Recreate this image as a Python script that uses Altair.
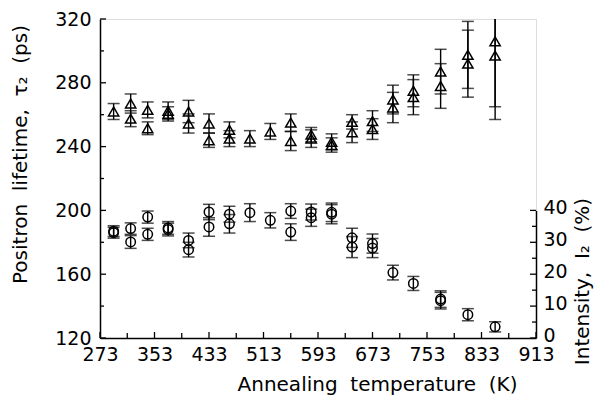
import altair as alt
import pandas as pd

# ---- data ----
# positron lifetime tau2 (ps), triangles
tri_T   = [293, 318, 318, 343, 343, 373, 373, 403, 403, 433, 433, 463, 463, 493, 523, 553, 553,
           583, 583, 613, 613, 643, 643, 673, 673, 703, 703, 733, 733, 773, 773, 813, 813, 853, 853]
tri_val = [262, 267, 257.5, 263, 251.5, 262.5, 260.5, 262, 254.5, 254.5, 244, 250.5, 245, 245, 249.5, 255, 243.5,
           247.5, 245, 243, 241, 255.5, 249, 256, 251, 269.5, 264.5, 275, 271, 287, 278, 297.5, 292, 306, 297]
tri_err = [5, 6, 5, 5, 4, 5.5, 4.5, 7, 6, 6, 4.5, 5, 5, 5, 5, 5.5, 6,
           4.5, 5.5, 5, 4.5, 4.5, 6.5, 6.5, 6.5, 9, 9.5, 10, 11, 14, 14, 21, 21, 41, 40]

# intensity I2 (%), circles
cir_T   = [293, 293, 318, 318, 343, 343, 373, 373, 403, 403, 433, 433, 463, 463, 493, 523, 553, 553,
           583, 583, 613, 613, 643, 643, 673, 673, 703, 733, 773, 773, 813, 853]
cir_val = [33.5, 33.0, 34.3, 30.1, 37.9, 32.5, 34.5, 34.0, 30.6, 27.7, 39.5, 34.8, 38.8, 35.8, 39.3, 36.9, 39.8, 33.2,
           39.5, 37.7, 39.4, 38.8, 31.4, 28.5, 29.6, 28.2, 20.5, 17.1, 12.2, 11.7, 7.3, 3.5]
cir_err = [1.7, 1.7, 1.8, 2.0, 1.9, 1.9, 2.0, 2.0, 2.3, 2.3, 2.4, 2.9, 2.5, 2.9, 2.8, 2.4, 2.3, 2.6,
           2.5, 2.7, 2.9, 3.0, 3.0, 3.3, 3.0, 3.0, 2.3, 2.2, 2.6, 2.6, 1.9, 1.6]

x_labels   = [273, 353, 433, 513, 593, 673, 753, 833, 913]
x_minor    = [313, 393, 473, 553, 633, 713, 793, 873]
yl_labels  = [120, 160, 200, 240, 280, 320]
yl_minor   = [140, 180, 220, 260, 300]
yr_labels  = [0, 10, 20, 30, 40]
yr_minor   = [5, 15, 25, 35]

W, H = 436, 319
FONT = "DejaVu Sans"
FS = 19
TS = 20
S2 = "\u00a0\u00a0"

tri = pd.DataFrame({"T": tri_T, "v": tri_val, "e": tri_err})
tri["lo"] = tri["v"] - tri["e"]
tri["hi"] = tri["v"] + tri["e"]
cir = pd.DataFrame({"T": cir_T, "v": cir_val, "e": cir_err})
cir["lo"] = cir["v"] - cir["e"]
cir["hi"] = cir["v"] + cir["e"]

xscale = alt.Scale(domain=[273, 913], nice=False, zero=False)
xaxis = alt.Axis(values=x_labels, ticks=False, grid=False, labelFontSize=FS, labelFont=FONT,
                 labelColor="black", domainColor="black", domainWidth=1.5, labelPadding=7,
                 labelFlush=False,
                 title=f"Annealing{S2}temperature{S2}(K)", titleFont=FONT, titleFontSize=TS,
                 titleFontWeight="normal", titleColor="black", titleX=277, titleY=46,
                 titleAlign="center", titleBaseline="middle")

lscale = alt.Scale(domain=[120, 320], nice=False, zero=False)
laxis = alt.Axis(values=yl_labels, ticks=False, grid=False, labelFontSize=FS, labelFont=FONT,
                 labelColor="black", domainColor="black", domainWidth=1.5, labelPadding=9,
                 title=f"Positron{S2}lifetime,{S2}τ₂{S2}(ps)", titleFont=FONT, titleFontSize=TS,
                 titleFontWeight="normal", titleColor="black", titleAngle=270,
                 titleX=-80, titleY=135, titleAlign="center", titleBaseline="middle")

rscale = alt.Scale(domain=[0, 40], range=[H, H - 127.6], nice=False, zero=False)
raxis = alt.Axis(values=yr_labels, ticks=False, grid=False, orient="right", labelFontSize=FS,
                 labelFont=FONT, labelColor="black", domainColor="black", domainWidth=1.5,
                 labelPadding=7, labelOffset=-3,
                 title=f"Intensity,{S2}I₂{S2}(%)", titleFont=FONT, titleFontSize=TS,
                 titleFontWeight="normal", titleColor="black", titleAngle=270,
                 titleX=46, titleY=262, titleAlign="center", titleBaseline="middle")

X = lambda f: alt.X(f, type="quantitative", scale=xscale, axis=xaxis)
YL = lambda f: alt.Y(f, type="quantitative", scale=lscale, axis=laxis)
YR = lambda f: alt.Y(f, type="quantitative", scale=rscale, axis=raxis)

# ---- triangles (left scale) ----
tb = alt.Chart(tri)
tri_rule = tb.mark_rule(color="black", strokeWidth=1.4, clip=True).encode(
    x=X("T"), y=YL("lo"), y2="hi")
tri_caps = tb.transform_fold(["lo", "hi"], as_=["k", "c"]).mark_tick(
    orient="horizontal", color="black", size=12, thickness=1.5, clip=True).encode(
    x=X("T"), y=YL("c"))
tri_pts = tb.mark_point(shape="triangle-up", filled=False, color="black", size=105,
                        strokeWidth=1.5, opacity=1).encode(x=X("T"), y=YL("v"))

xt_major = alt.Chart(pd.DataFrame({"t": x_labels})).mark_rule(color="black", strokeWidth=1.3).encode(
    x=X("t"), y=alt.value(H), y2=alt.value(H - 6))
xt_minor = alt.Chart(pd.DataFrame({"t": x_minor})).mark_rule(color="black", strokeWidth=1.3).encode(
    x=X("t"), y=alt.value(H), y2=alt.value(H - 5))
yl_major = alt.Chart(pd.DataFrame({"t": yl_labels})).mark_rule(color="black", strokeWidth=1.3).encode(
    y=YL("t"), x=alt.value(0), x2=alt.value(6))
yl_min = alt.Chart(pd.DataFrame({"t": yl_minor})).mark_rule(color="black", strokeWidth=1.3).encode(
    y=YL("t"), x=alt.value(0), x2=alt.value(4))

left = alt.layer(tri_rule, tri_caps, tri_pts, xt_major, xt_minor, yl_major, yl_min)

# ---- circles (right scale) ----
cb = alt.Chart(cir)
cir_rule = cb.mark_rule(color="black", strokeWidth=1.4).encode(
    x=X("T"), y=YR("lo"), y2="hi")
cir_caps = cb.transform_fold(["lo", "hi"], as_=["k", "c"]).mark_tick(
    orient="horizontal", color="black", size=12, thickness=1.5).encode(
    x=X("T"), y=YR("c"))
cir_pts = cb.mark_point(shape="circle", filled=False, color="black", size=90,
                        strokeWidth=1.5, opacity=1).encode(x=X("T"), y=YR("v"))
yr_major = alt.Chart(pd.DataFrame({"t": yr_labels})).mark_rule(color="black", strokeWidth=1.3).encode(
    y=YR("t"), x=alt.value(W), x2=alt.value(W - 6))
yr_min = alt.Chart(pd.DataFrame({"t": yr_minor})).mark_rule(color="black", strokeWidth=1.3).encode(
    y=YR("t"), x=alt.value(W), x2=alt.value(W - 4))

right = alt.layer(cir_rule, cir_caps, cir_pts, yr_major, yr_min)

chart = alt.layer(left, right).resolve_scale(y="independent").properties(
    width=W, height=H, autosize="none",
    padding={"left": 92, "top": 11, "right": 68, "bottom": 59},
).configure_view(stroke=None).configure(background="white")

chart.save("out.html", embed_options={"renderer": "svg", "actions": False})
